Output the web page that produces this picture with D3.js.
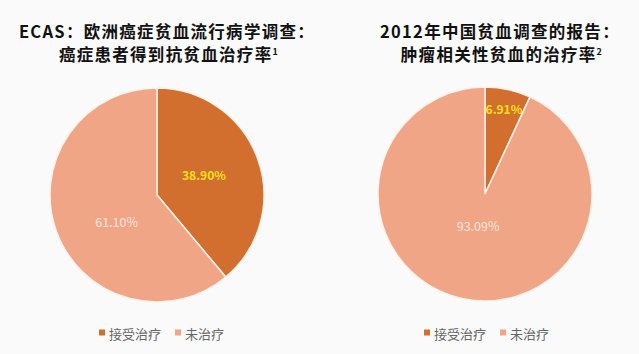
<!DOCTYPE html>
<html><head><meta charset="utf-8">
<script src="https://cdn.jsdelivr.net/npm/d3@7"></script>
<style>html,body{margin:0;padding:0;background:#fafafa;}</style>
</head><body>
<svg id="c" width="639" height="354"></svg>
<script>
const categories = ["接受治疗", "未治疗"];
const valuesECAS = [38.90, 61.10];
const valuesChina = [6.91, 93.09];
const labelsECAS = ["38.90%", "61.10%"];
const labelsChina = ["6.91%", "93.09%"];
const titlesECAS = ["ECAS：欧洲癌症贫血流行病学调查：", "癌症患者得到抗贫血治疗率"];
const titlesChina = ["2012年中国贫血调查的报告：", "肿瘤相关性贫血的治疗率"];
const supECAS = "1", supChina = "2";
const colors = ["#d26e2e", "#f0a586"];
const labelColors = ["#ffe21a", "#fbe6da"];

const svg = d3.select("#c");
svg.append("rect").attr("width", 639).attr("height", 354).attr("fill", "#fafafa");
const font = "'Noto Sans CJK SC', 'Noto Sans', sans-serif";

function drawPie(cx, cy, r, values, labels, titles, sup, labelPos, labelShift, legendX, titleX) {
  const g = svg.append("g").attr("transform", `translate(${cx},${cy})`);
  const pie = d3.pie().sort(null).value(d => d);
  const arcs = pie(values);
  const arc = d3.arc().innerRadius(0).outerRadius(r);
  g.selectAll("path").data(arcs).join("path")
    .attr("d", arc).attr("fill", (d, i) => colors[i])
    .attr("stroke", "#fdf3ea").attr("stroke-width", 1.5);
  g.selectAll("text.l").data(arcs).join("text")
    .attr("class", "l")
    .attr("transform", (d, i) => {
      const a = (d.startAngle + d.endAngle) / 2 + labelShift[i] * Math.PI / 180;
      const rr = r * labelPos[i];
      return `translate(${rr * Math.sin(a)},${-rr * Math.cos(a)})`;
    })
    .attr("text-anchor", "middle").attr("dominant-baseline", "central")
    .attr("font-family", font).attr("font-size", (d, i) => i === 0 ? 12 : 12.5)
    .attr("font-weight", (d, i) => i === 0 ? "bold" : "normal")
    .attr("fill", (d, i) => labelColors[i])
    .text((d, i) => labels[i]);
  // titles
  svg.append("text").attr("x", titleX).attr("y", 38)
    .attr("text-anchor", "middle").attr("font-family", font)
    .attr("font-size", 16.5).attr("letter-spacing", 1.3)
    .attr("font-weight", "bold").attr("fill", "#111")
    .text(titles[0]);
  const t2 = svg.append("text").attr("x", titleX + 2).attr("y", 61)
    .attr("text-anchor", "middle").attr("font-family", font)
    .attr("font-size", 16.5).attr("letter-spacing", 1.3)
    .attr("font-weight", "bold").attr("fill", "#111");
  t2.append("tspan").text(titles[1]);
  t2.append("tspan").attr("font-size", 9).attr("dy", -6).text(sup);
  // legend
  const lg = svg.append("g").attr("transform", `translate(${legendX},333)`);
  let x = 0;
  categories.forEach((c, i) => {
    lg.append("rect").attr("x", x).attr("y", -3.5).attr("width", 6).attr("height", 6).attr("fill", colors[i]);
    const t = lg.append("text").attr("x", x + 10).attr("y", 0)
      .attr("dominant-baseline", "central")
      .attr("font-family", font).attr("font-size", 13).attr("fill", "#666").text(c);
    x += 10 + t.node().getComputedTextLength() + 14;
  });
}

drawPie(157, 195, 107, valuesECAS, labelsECAS, titlesECAS, supECAS, [0.48, 0.45], [-4, -13], 99, 167);
drawPie(485, 194, 107, valuesChina, labelsChina, titlesChina, supChina, [0.82, 0.3], [0, 0], 424, 500);
</script>
</body></html>
